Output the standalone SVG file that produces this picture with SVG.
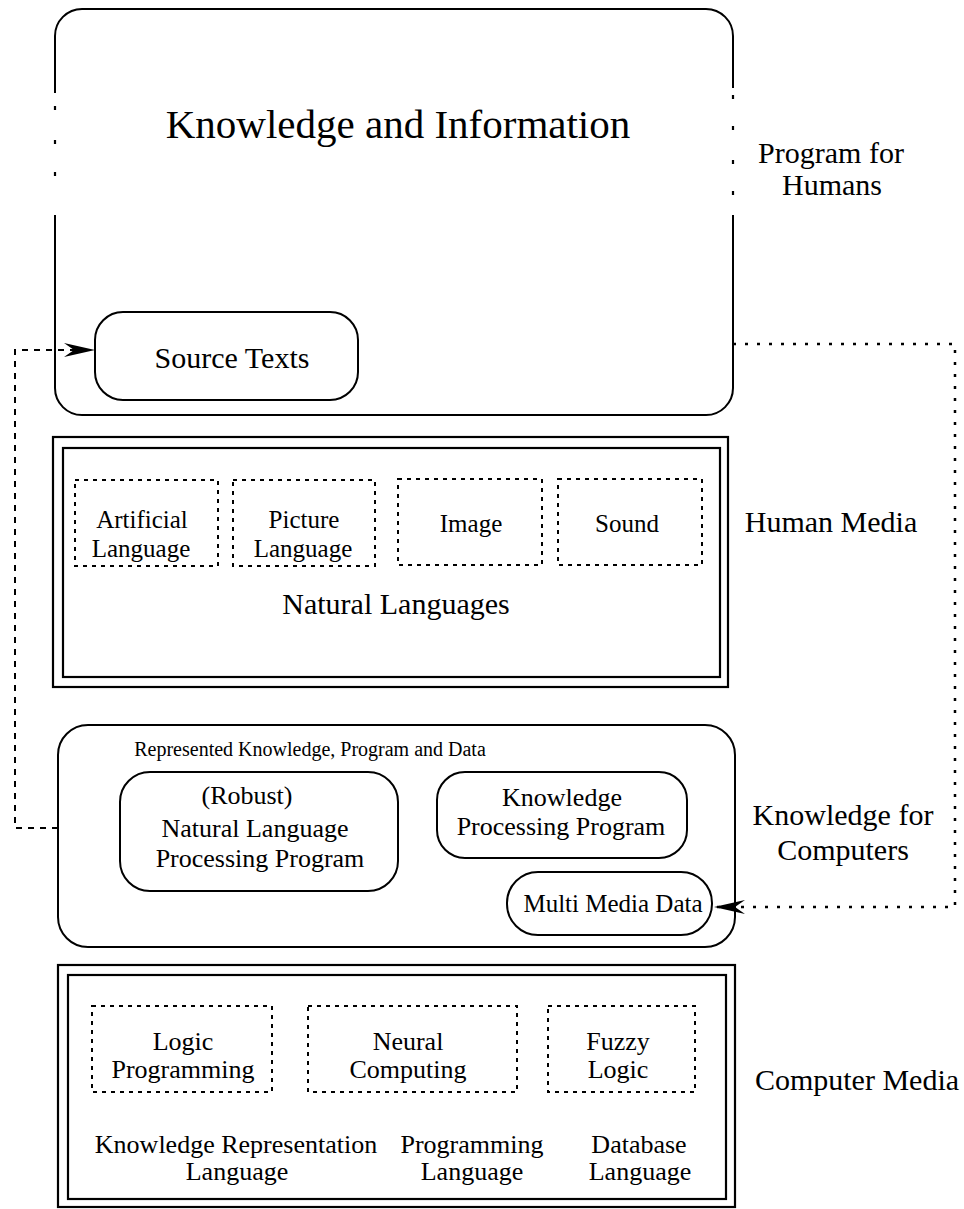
<svg xmlns="http://www.w3.org/2000/svg" width="964" height="1209" viewBox="0 0 964 1209">
  <style>
    text { font-family: "Liberation Serif", "Times New Roman", serif; fill: #000; text-anchor: middle; }
    .box { fill: none; stroke: #000; stroke-width: 2; }
    .frame { fill: none; stroke: #000; stroke-width: 2.2; }
    .dashbox { fill: none; stroke: #000; stroke-width: 2; stroke-dasharray: 4 5; }
    .dots { stroke: #000; stroke-width: 2.2; stroke-linecap: butt; }
    .dashed { fill: none; stroke: #000; stroke-width: 2; stroke-dasharray: 6 6; }
    .dotted { fill: none; stroke: #000; stroke-width: 2.5; stroke-dasharray: 3 9; }
    .t41 { font-size: 41px; }
    .t30 { font-size: 30px; }
    .t26 { font-size: 26px; }
    .t25 { font-size: 25px; }
    .t20 { font-size: 20px; }
  </style>
  <defs>
    <marker id="arrow" markerUnits="userSpaceOnUse" markerWidth="32" markerHeight="14" refX="31" refY="7" orient="auto">
      <path d="M0,0 L31,7 L0,14 L10,7 z" fill="#000"/>
    </marker>
  </defs>

  <rect width="964" height="1209" fill="#fff"/>

  <!-- Program for Humans: rounded frame with broken side edges -->
  <g id="knowledge-information">
    <path class="box" d="M55,215 V388 A27,27 0 0 0 82,415 H706 A27,27 0 0 0 733,388 V215"/>
    <path class="box" d="M733,88 V36 A27,27 0 0 0 706,9 H82 A27,27 0 0 0 55,36 V93"/>
    <path class="dots" d="M55,106 v4 M55,140 v4 M55,172 v4 M733,95 v4 M733,126 v4 M733,160 v4 M733,191 v4"/>
    <text class="t41" x="398" y="138">Knowledge and Information</text>
  </g>

  <g id="source-texts">
    <rect class="box" x="95" y="312" width="263" height="88" rx="28" ry="28"/>
    <text class="t30" x="232" y="368">Source Texts</text>
  </g>

  <g id="label-program-for-humans">
    <text class="t30" x="831" y="163">Program for</text>
    <text class="t30" x="832" y="195">Humans</text>
  </g>

  <!-- Human Media -->
  <g id="human-media">
    <rect class="frame" x="53" y="437" width="675" height="250"/>
    <rect class="frame" x="63" y="448" width="657" height="229"/>
    <text class="t30" x="396" y="614">Natural Languages</text>
  </g>
  <g id="artificial-language">
    <rect class="dashbox" x="75" y="480" width="143" height="86"/>
    <text class="t25" x="142" y="528">Artificial</text>
    <text class="t25" x="141" y="557">Language</text>
  </g>
  <g id="picture-language">
    <rect class="dashbox" x="233" y="480" width="142" height="86"/>
    <text class="t25" x="304" y="528">Picture</text>
    <text class="t25" x="303" y="557">Language</text>
  </g>
  <g id="image">
    <rect class="dashbox" x="398" y="479" width="144" height="86"/>
    <text class="t25" x="471" y="532">Image</text>
  </g>
  <g id="sound">
    <rect class="dashbox" x="558" y="479" width="144" height="86"/>
    <text class="t25" x="627" y="532">Sound</text>
  </g>
  <g id="label-human-media">
    <text class="t30" x="831" y="532">Human Media</text>
  </g>

  <!-- Knowledge for Computers -->
  <g id="knowledge-for-computers">
    <rect class="box" x="58" y="725" width="677" height="222" rx="30" ry="30"/>
    <text class="t20" x="310" y="756">Represented Knowledge, Program and Data</text>
  </g>
  <g id="nlp-program">
    <rect class="box" x="120" y="772" width="278" height="119" rx="30" ry="30"/>
    <text class="t26" x="247" y="804">(Robust)</text>
    <text class="t26" x="255" y="837">Natural Language</text>
    <text class="t26" x="260" y="867">Processing Program</text>
  </g>
  <g id="knowledge-processing-program">
    <rect class="box" x="437" y="772" width="250" height="86" rx="28" ry="28"/>
    <text class="t26" x="562" y="806">Knowledge</text>
    <text class="t26" x="561" y="835">Processing Program</text>
  </g>
  <g id="multi-media-data">
    <rect class="box" x="507" y="872" width="205" height="63" rx="31" ry="31"/>
    <text class="t25" x="613" y="912">Multi Media Data</text>
  </g>
  <g id="label-knowledge-for-computers">
    <text class="t30" x="843" y="825">Knowledge for</text>
    <text class="t30" x="843" y="860">Computers</text>
  </g>

  <!-- Computer Media -->
  <g id="computer-media">
    <rect class="frame" x="58" y="965" width="677" height="242"/>
    <rect class="frame" x="68" y="975" width="658" height="224"/>
    <text class="t26" x="236" y="1153">Knowledge Representation</text>
    <text class="t26" x="237" y="1180">Language</text>
    <text class="t26" x="472" y="1153">Programming</text>
    <text class="t26" x="472" y="1180">Language</text>
    <text class="t26" x="639" y="1153">Database</text>
    <text class="t26" x="640" y="1180">Language</text>
  </g>
  <g id="logic-programming">
    <rect class="dashbox" x="92" y="1006" width="180" height="86"/>
    <text class="t26" x="183" y="1050">Logic</text>
    <text class="t26" x="183" y="1078">Programming</text>
  </g>
  <g id="neural-computing">
    <rect class="dashbox" x="308" y="1006" width="209" height="86"/>
    <text class="t26" x="408" y="1050">Neural</text>
    <text class="t26" x="408" y="1078">Computing</text>
  </g>
  <g id="fuzzy-logic">
    <rect class="dashbox" x="548" y="1006" width="147" height="86"/>
    <text class="t26" x="618" y="1050">Fuzzy</text>
    <text class="t26" x="618" y="1078">Logic</text>
  </g>
  <g id="label-computer-media">
    <text class="t30" x="857" y="1090">Computer Media</text>
  </g>

  <!-- Connectors -->
  <g id="connectors">
    <path class="dashed" d="M58,828 H15 V350 H95" marker-end="url(#arrow)"/>
    <path class="dotted" d="M733,344 H955 V907 H714" marker-end="url(#arrow)"/>
  </g>
</svg>
